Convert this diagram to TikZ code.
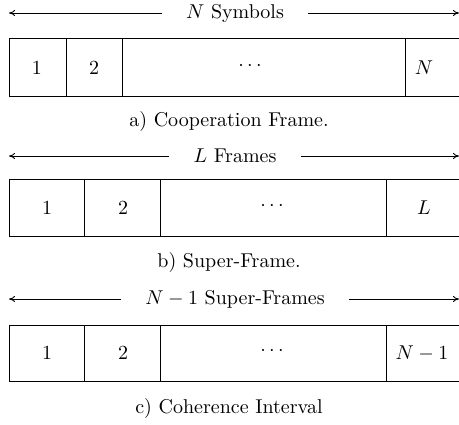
\documentclass[tikz,border=0pt]{standalone}
\usetikzlibrary{arrows.meta}
\begin{document}
\begin{tikzpicture}[x=0.5pt,y=-0.5pt,
  cell/.style={draw,line width=0.5pt,inner sep=0pt,anchor=north west},
  lab/.style={inner sep=0pt,anchor=center},
  span/.style={inner xsep=12pt,inner ysep=0pt,anchor=center},
  arr/.style={-{To[length=3pt,width=3pt]},line width=0.45pt}]
\useasboundingbox (0,0) rectangle (459,424);
% ---- a) ----
\node[span] (ta) at (235,13) {$N$ Symbols};
\coordinate (al) at (9,13);
\coordinate (ar) at (459,13);
\draw[arr] (ta.west) -- (al);
\draw[arr] (ta.east) -- (ar);
\node[cell,minimum width=28.5pt,minimum height=29pt] (a1) at (9,38) {};
\node[cell,minimum width=28pt,minimum height=29pt] (a2) at (66,38) {};
\node[cell,minimum width=141.5pt,minimum height=29pt] (a3) at (122,38) {};
\node[cell,minimum width=27pt,minimum height=29pt] (a4) at (405,38) {};
\node[lab] (la1) at (37,68) {$1$};
\node[lab] (la2) at (94,68) {$2$};
\node[lab] (la3) at (250,66) {$\cdots$};
\node[lab] (la4) at (424,68) {$N$};
\node[lab] (ca) at (229,121) {a) Cooperation Frame.};
% ---- b) ----
\node[span] (tb) at (235,156) {$L$ Frames};
\coordinate (bl) at (9,156);
\coordinate (br) at (459,156);
\draw[arr] (tb.west) -- (bl);
\draw[arr] (tb.east) -- (br);
\node[cell,minimum width=37.5pt,minimum height=28.5pt] (b1) at (9,179) {};
\node[cell,minimum width=38pt,minimum height=28.5pt] (b2) at (84,179) {};
\node[cell,minimum width=113pt,minimum height=28.5pt] (b3) at (160,179) {};
\node[cell,minimum width=36.5pt,minimum height=28.5pt] (b4) at (386,179) {};
\node[lab] (lb1) at (47,208) {$1$};
\node[lab] (lb2) at (123,208) {$2$};
\node[lab] (lb3) at (272,206) {$\cdots$};
\node[lab] (lb4) at (424,208) {$L$};
\node[lab] (cb) at (229,262) {b) Super-Frame.};
% ---- c) ----
\node[span] (tc) at (235,299) {$N-1$ Super-Frames};
\coordinate (cl) at (9,299);
\coordinate (cr) at (459,299);
\draw[arr] (tc.west) -- (cl);
\draw[arr] (tc.east) -- (cr);
\node[cell,minimum width=37.5pt,minimum height=28pt] (c1) at (9,325) {};
\node[cell,minimum width=38pt,minimum height=28pt] (c2) at (84,325) {};
\node[cell,minimum width=113pt,minimum height=28pt] (c3) at (160,325) {};
\node[cell,minimum width=36.5pt,minimum height=28pt] (c4) at (386,325) {};
\node[lab] (lc1) at (47,353) {$1$};
\node[lab] (lc2) at (123,353) {$2$};
\node[lab] (lc3) at (272,351) {$\cdots$};
\node[lab] (lc4) at (422,353) {$N-1$};
\node[lab] (cc) at (229,408) {c) Coherence Interval};
\end{tikzpicture}
\end{document}
